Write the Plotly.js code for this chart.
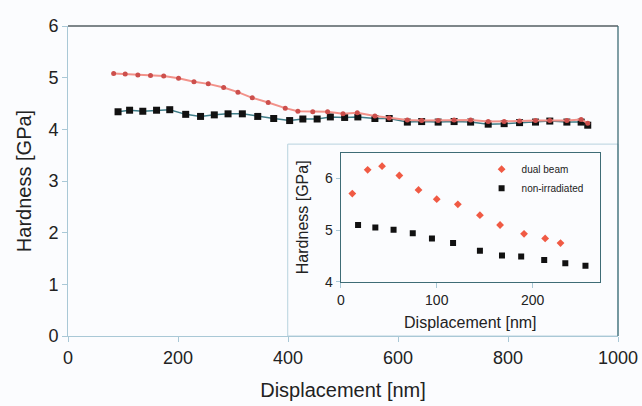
<!DOCTYPE html>
<html>
<head>
<meta charset="utf-8">
<script src="https://cdn.plot.ly/plotly-3.0.1.min.js"></script>
<style>html,body{margin:0;padding:0;background:#fbfcfe;}#chart{width:642px;height:406px;}</style>
</head>
<body>
<div id="chart"></div>
<script>
// Main chart: dual beam (red) and non-irradiated (black)
const dualX = [83,104,127,150,174,201,229,255,283,309,335,364,395,418,445,472,500,526,558,584,617,643,673,702,732,764,793,821,850,876,907,933,945];
const dualY = [5.08,5.07,5.05,5.04,5.03,4.99,4.92,4.88,4.81,4.72,4.61,4.52,4.41,4.35,4.34,4.34,4.30,4.32,4.26,4.22,4.18,4.17,4.17,4.18,4.18,4.15,4.15,4.16,4.17,4.17,4.17,4.19,4.12];
const nonX = [91,112,136,161,185,214,241,266,291,317,345,374,403,427,453,477,503,527,558,584,617,643,673,702,732,764,793,821,850,876,907,933,945];
const nonY = [4.34,4.37,4.35,4.37,4.38,4.29,4.25,4.28,4.30,4.30,4.25,4.21,4.17,4.20,4.20,4.24,4.23,4.24,4.21,4.21,4.14,4.15,4.14,4.15,4.14,4.10,4.11,4.13,4.14,4.16,4.14,4.14,4.08];
// Inset chart
const insetDualX = [12,28,43,61,81,100,122,145,166,191,213,229];
const insetDualY = [5.71,6.17,6.24,6.06,5.78,5.60,5.50,5.29,5.10,4.93,4.84,4.75];
const insetNonX = [18,36,55,75,95,117,145,168,188,212,234,255];
const insetNonY = [5.10,5.05,5.01,4.94,4.84,4.75,4.60,4.51,4.49,4.42,4.36,4.31];
const mainXTicks = [0,200,400,600,800,1000];
const mainYTicks = [0,1,2,3,4,5,6];
const insetXTicks = [0,100,200];
const insetYTicks = [4,5,6];
const legendNames = ['dual beam','non-irradiated'];

const FONT = 'Liberation Sans, Arial, sans-serif';
const axisBlue = '#a9c8d6';
const frameDark = '#3e6c76';

const traces = [
  {x: nonX, y: nonY, xaxis:'x', yaxis:'y', mode:'lines+markers', showlegend:false,
   line:{color:'#3f7d88', width:1.5}, marker:{symbol:'square', size:7, color:'#111111'}},
  {x: dualX, y: dualY, xaxis:'x', yaxis:'y', mode:'lines+markers', showlegend:false,
   line:{color:'#f2928a', width:2}, marker:{symbol:'circle', size:5, color:'#cc4f4c'}},
  {x: insetDualX, y: insetDualY, xaxis:'x2', yaxis:'y2', mode:'markers', name:legendNames[0],
   marker:{symbol:'diamond', size:6, color:'#f05a44'}},
  {x: insetNonX, y: insetNonY, xaxis:'x2', yaxis:'y2', mode:'markers', name:legendNames[1],
   marker:{symbol:'square', size:6, color:'#111111'}}
];

const layout = {
  width:642, height:406,
  margin:{l:68, r:24, t:26, b:70},
  paper_bgcolor:'#fbfcfe', plot_bgcolor:'#fbfcfe',
  font:{family:FONT, color:'#222222'},
  xaxis:{range:[0,1000], tickvals:mainXTicks, ticks:'outside', ticklen:5, tickcolor:axisBlue,
         showline:true, linecolor:axisBlue, linewidth:1, showgrid:false, zeroline:false,
         tickfont:{size:18, family:FONT, color:'#222'},
         title:{text:'Displacement [nm]', font:{size:20, family:FONT, color:'#222'}, standoff:16}},
  yaxis:{range:[0,6], tickvals:mainYTicks, ticks:'outside', ticklen:5, tickcolor:axisBlue,
         showline:true, linecolor:axisBlue, linewidth:1, showgrid:false, zeroline:false,
         tickfont:{size:18, family:FONT, color:'#222'},
         title:{text:'Hardness [GPa]', font:{size:20, family:FONT, color:'#222'}, standoff:11}},
  xaxis2:{domain:[0.496,0.967], anchor:'y2', range:[0,270], tickvals:insetXTicks, ticks:'outside', ticklen:5,
          tickcolor:axisBlue, showline:true, mirror:true, linecolor:frameDark, linewidth:1.2,
          showgrid:false, zeroline:false, tickfont:{size:14, family:FONT, color:'#222'},
          title:{text:'Displacement [nm]', font:{size:16, family:FONT, color:'#222'}, standoff:10}},
  yaxis2:{domain:[0.175,0.591], anchor:'x2', range:[4,6.5], tickvals:insetYTicks, ticks:'outside', ticklen:4,
          tickcolor:axisBlue, showline:true, mirror:true, linecolor:frameDark, linewidth:1.2,
          showgrid:false, zeroline:false, tickfont:{size:14, family:FONT, color:'#222'},
          title:{text:'Hardness [GPa]', font:{size:16, family:FONT, color:'#222'}, standoff:12}},
  showlegend:true,
  legend:{x:0.752, y:0.585, xanchor:'left', yanchor:'top', bgcolor:'rgba(0,0,0,0)',
          font:{size:10, family:FONT, color:'#222'}, itemwidth:30, tracegroupgap:0},
  shapes:[
    {type:'rect', xref:'paper', yref:'paper', x0:0.3995, x1:1, y0:0, y1:0.619,
     line:{color:'#b8d2de', width:1}, fillcolor:'#fbfcfe', layer:'below'},
    {type:'line', xref:'paper', yref:'paper', x0:0, x1:1, y0:1, y1:1, line:{color:'#555f63', width:1.3}},
    {type:'line', xref:'paper', yref:'paper', x0:1, x1:1, y0:0, y1:1, line:{color:frameDark, width:1.3}}
  ]
};

Plotly.newPlot('chart', traces, layout, {staticPlot:true, displayModeBar:false});
</script>
</body>
</html>
